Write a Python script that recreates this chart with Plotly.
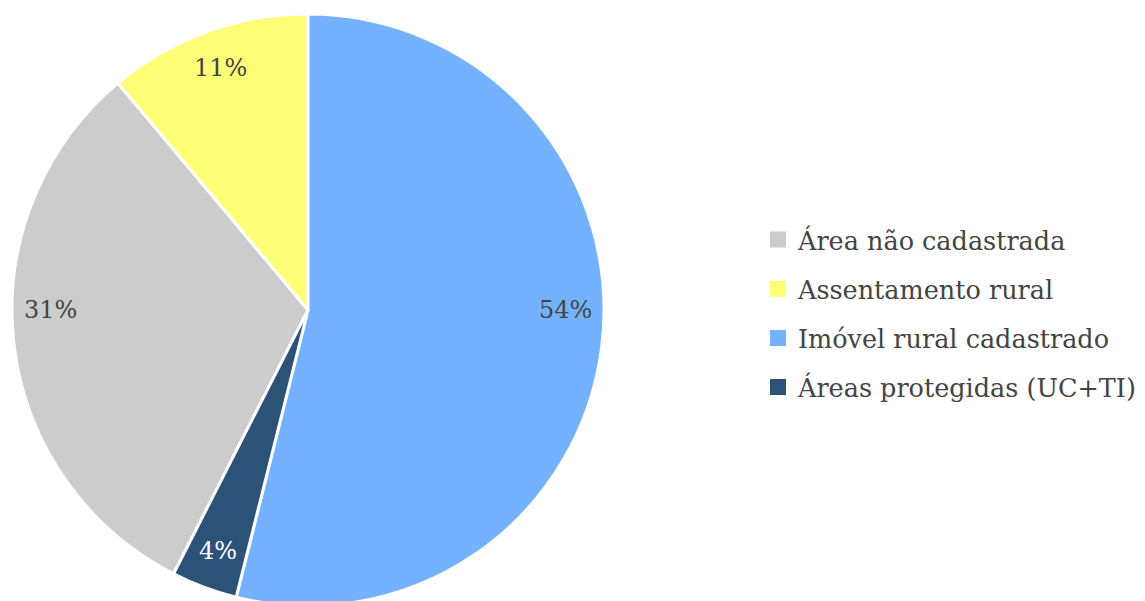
import math
import plotly.graph_objects as go

labels = ["Área não cadastrada", "Assentamento rural", "Imóvel rural cadastrado", "Áreas protegidas (UC+TI)"]
values = [31.4, 11.1, 53.9, 3.6]
colors = ["#CCCCCC", "#FFFF77", "#74B2FF", "#2D5278"]
text_colors = ["#444444", "#444444", "#444444", "#FFFFFF"]
label_radius = 0.87

W, H = 1145, 620
dom_x = [12 / W, 604 / W]
dom_y = [1 - 606 / H, 1 - 14 / H]
rotation = (values[2] + values[3]) / sum(values) * 360

fig = go.Figure()
fig.add_trace(go.Pie(
    labels=labels, values=values, sort=False, direction="clockwise",
    rotation=rotation,
    marker=dict(colors=colors, line=dict(color="white", width=3)),
    textinfo="none", hoverinfo="label+percent", showlegend=False,
    domain=dict(x=dom_x, y=dom_y),
))

# percentage labels: on the horizontal axis when the slice spans it, else at mid-angle
cx = (dom_x[0] + dom_x[1]) / 2 * W
cy = (1 - (dom_y[0] + dom_y[1]) / 2) * H
r = min((dom_x[1] - dom_x[0]) * W, (dom_y[1] - dom_y[0]) * H) / 2
total = sum(values)
cum = 0.0
for lab, v, tc in zip(labels, values, text_colors):
    start = (rotation + cum / total * 360) % 360
    end = start + v / total * 360
    cum += v
    ang = (start + end) / 2
    for h in (90, 270, 450, 630):
        if start <= h <= end:
            ang = h
            break
    a = math.radians(ang)
    px = cx + label_radius * r * math.sin(a)
    py = cy - label_radius * r * math.cos(a)
    fig.add_annotation(x=px / W, y=1 - py / H, xref="paper", yref="paper",
                       xanchor="center", yanchor="middle",
                       text=f"{round(v / total * 100)}%", showarrow=False,
                       font=dict(family="DejaVu Serif", size=24, color=tc))

# legend entries
for i, (lab, c) in enumerate(zip(labels, colors)):
    fig.add_trace(go.Scatter(x=[None], y=[None], mode="markers", name=lab,
                             legendgroup=str(i),
                             marker=dict(symbol="square", size=18, color=c)))

fig.update_layout(
    width=W, height=H, margin=dict(l=0, r=0, t=0, b=0, autoexpand=False),
    paper_bgcolor="white", plot_bgcolor="white",
    xaxis=dict(visible=False), yaxis=dict(visible=False),
    legend=dict(x=758 / W, y=1 - 313.5 / H, xanchor="left", yanchor="middle",
                font=dict(family="DejaVu Serif", size=25.5, color="#444444"),
                tracegroupgap=13, itemwidth=30),
    showlegend=True,
)
fig.write_html("out.html", config={"displayModeBar": False},
               post_script="document.body.style.margin='0';document.body.style.overflow='hidden';")
